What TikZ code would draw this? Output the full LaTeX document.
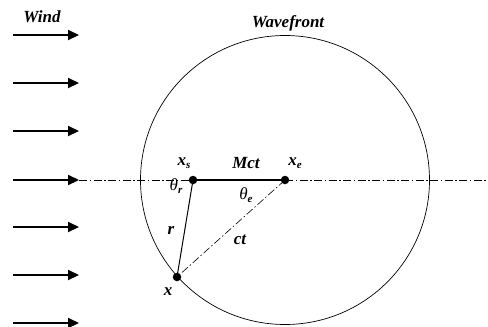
\documentclass[tikz,border=0pt]{standalone}
\usepackage{fontspec}
\setmainfont{Liberation Serif}[BoldItalicFont={Liberation Serif Bold Italic},ItalicFont={Liberation Serif Italic},BoldFont={Liberation Serif Bold}]
\usetikzlibrary{arrows.meta}
\begin{document}
\begin{tikzpicture}[x=1pt,y=-1pt,
  lbl/.style={font=\fontsize{17}{19}\selectfont\bfseries\itshape, inner sep=0pt},
  glbl/.style={font=\fontsize{17}{19}\selectfont\itshape, inner sep=0pt},
  wind/.style={line width=2.2pt, -{Triangle[length=11pt,width=10pt]}},
  dashdot/.style={line width=0.6pt, dash pattern=on 8pt off 2.5pt on 1.5pt off 2.5pt},
  dot/.style={circle, fill=black, inner sep=0pt, minimum size=8.5pt},
  front/.style={line width=0.7pt}]
\useasboundingbox (0,0) rectangle (488,327);
% wind arrows
\foreach \i/\y in {1/35,2/83,3/131,4/180,5/227,6/275,7/323}{
  \coordinate (wa\i) at (13,\y);
  \coordinate (wb\i) at (79,\y);
  \draw[wind] (wa\i) -- (wb\i);
}
\node[lbl] (wind) at (42,17) {Wind};
% points
\node[dot] (xs) at (193,180) {};
\node[dot] (xe) at (285,180) {};
\node[dot] (x) at (177,277) {};
\coordinate (rend) at (488,180);
% wavefront circle
\draw[front] (xe.center) circle (144.5);
\node[lbl] (wave) at (288,23) {Wavefront};
% axis line
\draw[dashdot] (wb4) -- (xs.center);
\draw[dashdot] (xe.center) -- (rend);
\draw[line width=1.5pt] (xs.center) -- (xe.center);
\draw[line width=1pt] (xs.center) -- (x.center);
\draw[dashdot] (xe.center) -- (x.center);
% labels
\node[lbl] (lxs) at (184,163) {x\raisebox{-3pt}{\fontsize{11}{12}\selectfont s}};
\node[lbl] (lmct) at (246,163) {Mct};
\node[lbl] (lxe) at (295,163) {x\raisebox{-3pt}{\fontsize{11}{12}\selectfont e}};
\node[glbl] (thr) at (176,186) {θ\raisebox{-3pt}{\fontsize{11}{12}\selectfont\bfseries r}};
\node[glbl] (the) at (246,195) {θ\raisebox{-3pt}{\fontsize{11}{12}\selectfont\bfseries e}};
\node[lbl] (lr) at (171,230) {r};
\node[lbl] (lct) at (240,240) {ct};
\node[lbl] (lx) at (168,292) {x};
\end{tikzpicture}
\end{document}
